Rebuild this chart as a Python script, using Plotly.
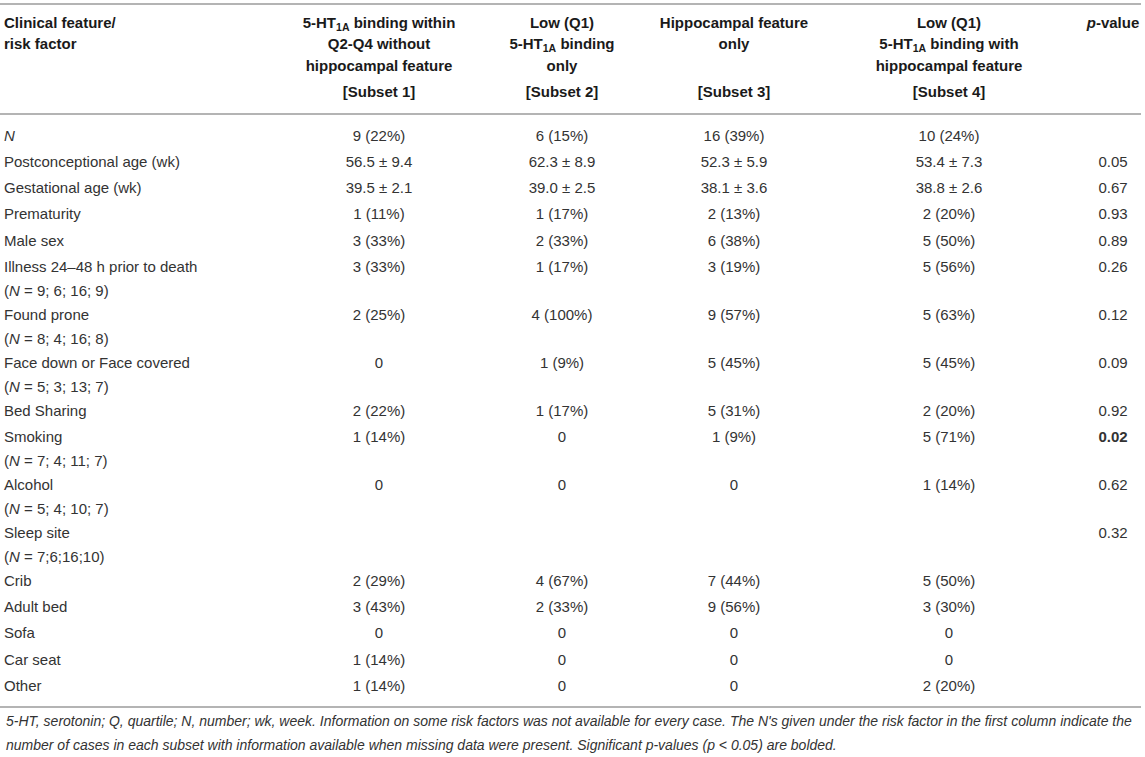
import plotly.graph_objects as go

# table content
row_labels = [
    "<i>N</i>", "Postconceptional age (wk)", "Gestational age (wk)", "Prematurity",
    "Male sex", "Illness 24–48 h prior to death", "Found prone",
    "Face down or Face covered", "Bed Sharing", "Smoking", "Alcohol", "Sleep site",
    "Crib", "Adult bed", "Sofa", "Car seat", "Other",
]
row_notes = [
    "", "", "", "", "", "(<i>N</i> = 9; 6; 16; 9)", "(<i>N</i> = 8; 4; 16; 8)",
    "(<i>N</i> = 5; 3; 13; 7)", "", "(<i>N</i> = 7; 4; 11; 7)", "(<i>N</i> = 5; 4; 10; 7)",
    "(<i>N</i> = 7;6;16;10)", "", "", "", "", "",
]
subset1 = ["9 (22%)", "56.5 ± 9.4", "39.5 ± 2.1", "1 (11%)", "3 (33%)", "3 (33%)", "2 (25%)",
           "0", "2 (22%)", "1 (14%)", "0", "", "2 (29%)", "3 (43%)", "0", "1 (14%)", "1 (14%)"]
subset2 = ["6 (15%)", "62.3 ± 8.9", "39.0 ± 2.5", "1 (17%)", "2 (33%)", "1 (17%)", "4 (100%)",
           "1 (9%)", "1 (17%)", "0", "0", "", "4 (67%)", "2 (33%)", "0", "0", "0"]
subset3 = ["16 (39%)", "52.3 ± 5.9", "38.1 ± 3.6", "2 (13%)", "6 (38%)", "3 (19%)", "9 (57%)",
           "5 (45%)", "5 (31%)", "1 (9%)", "0", "", "7 (44%)", "9 (56%)", "0", "0", "0"]
subset4 = ["10 (24%)", "53.4 ± 7.3", "38.8 ± 2.6", "2 (20%)", "5 (50%)", "5 (56%)", "5 (63%)",
           "5 (45%)", "2 (20%)", "5 (71%)", "1 (14%)", "", "5 (50%)", "3 (30%)", "0", "0", "2 (20%)"]
p_values = ["", "0.05", "0.67", "0.93", "0.89", "0.26", "0.12", "0.09", "0.92", "0.02", "0.62",
            "0.32", "", "", "", "", ""]

header_first = ["Clinical feature/", "risk factor"]
header_cols = [
    ["5-HT<sub>1A</sub> binding within", "Q2-Q4 without", "hippocampal feature"],
    ["Low (Q1)", "5-HT<sub>1A</sub> binding", "only"],
    ["Hippocampal feature", "only"],
    ["Low (Q1)", "5-HT<sub>1A</sub> binding with", "hippocampal feature"],
    ["<i>p</i>-value"],
]
subset_labels = ["[Subset 1]", "[Subset 2]", "[Subset 3]", "[Subset 4]", ""]

footnote_lines = [
    "5-HT, serotonin; Q, quartile; N, number; wk, week. Information on some risk factors was "
    "not available for every case. The N's given under the risk factor in the first column "
    "indicate the",
    "number of cases in each subset with information available when missing "
    "data were present. Significant p-values (p &lt; 0.05) are bolded.",
]

# layout (pixel units on the hidden axes)
W, H = 1145, 757
LABEL_X = 4
COL_X = [379, 562, 734, 949, 1113]
HEAD_Y = [24, 45, 67]
SUBSET_Y = 93
FIRST_ROW_Y = 137
ROW_H = 26.2       # single-line row
DOUBLE_ROW_H = 48  # row with an (N = ...) note under the label
NOTE_DY = 24.5
FOOT_Y = 721
FOOT_LINE_H = 24
FONT = "Liberation Sans, Arial, sans-serif"
BODY = dict(family=FONT, size=15, color="#333333")
HEAD = dict(family=FONT, size=15, color="#1a1a1a")

# y of every row from its line count
row_y = []
y = FIRST_ROW_Y
for note in row_notes:
    row_y.append(y)
    y += DOUBLE_ROW_H if note else ROW_H

p_text = [f"<b>{p}</b>" if p and float(p) < 0.05 else p for p in p_values]

fig = go.Figure()


def add_text(xs, ys, texts, pos, font):
    keep = [i for i, t in enumerate(texts) if t]
    fig.add_trace(go.Scatter(x=[xs[i] for i in keep], y=[ys[i] for i in keep],
                             text=[texts[i] for i in keep], mode="text", textposition=pos,
                             textfont=font, hoverinfo="skip", showlegend=False,
                             cliponaxis=False))


# header
add_text([LABEL_X] * len(header_first), HEAD_Y[:len(header_first)],
         [f"<b>{t}</b>" for t in header_first], "middle right", HEAD)
for cx, lines, sub in zip(COL_X, header_cols, subset_labels):
    add_text([cx] * len(lines), HEAD_Y[:len(lines)], [f"<b>{t}</b>" for t in lines],
             "middle center", HEAD)
    if sub:
        add_text([cx], [SUBSET_Y], [f"<b>{sub}</b>"], "middle center", HEAD)

# body
add_text([LABEL_X] * len(row_labels), row_y, row_labels, "middle right", BODY)
note_idx = [i for i, n in enumerate(row_notes) if n]
add_text([LABEL_X] * len(note_idx), [row_y[i] + NOTE_DY for i in note_idx],
         [row_notes[i] for i in note_idx], "middle right", BODY)
for cx, col in zip(COL_X, [subset1, subset2, subset3, subset4, p_text]):
    add_text([cx] * len(col), row_y, col, "middle center", BODY)

# rules
last_y = row_y[-1] + 20
for ry in [4, 114, last_y]:
    fig.add_shape(type="line", x0=0, x1=1141, y0=ry, y1=ry, xref="x", yref="y",
                  line=dict(color="#b4b4b4", width=2), layer="above")

for k, line in enumerate(footnote_lines):
    fig.add_annotation(x=LABEL_X, y=FOOT_Y + k * FOOT_LINE_H, xref="x", yref="y",
                       text=f"<i>{line}</i>", showarrow=False, xanchor="left",
                       yanchor="middle", align="left",
                       font=dict(family=FONT, size=14, color="#333333"))

fig.update_xaxes(range=[0, W], visible=False, fixedrange=True)
fig.update_yaxes(range=[H, 0], visible=False, fixedrange=True)
fig.update_layout(width=W, height=H, margin=dict(l=0, r=0, t=0, b=0),
                  paper_bgcolor="white", plot_bgcolor="white")

fig.write_html("out.html", config={"displayModeBar": False},
               post_script="document.body.style.margin = '0';")
